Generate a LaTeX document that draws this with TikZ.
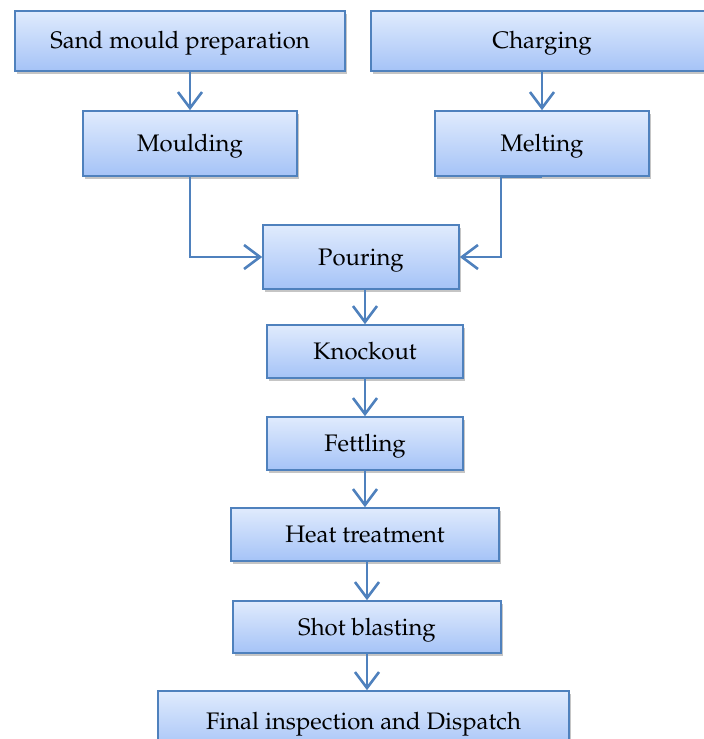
\documentclass[tikz,border=0pt]{standalone}
\usepackage[T1]{fontenc}
\usepackage{mathpazo}
\usetikzlibrary{shadows,arrows.meta}
\definecolor{boxline}{HTML}{4F81BD}
\definecolor{boxtop}{HTML}{E0EBFD}
\definecolor{boxbot}{HTML}{A5C3F7}
\tikzset{
  procbox/.style={draw=boxline, line width=1.6bp, top color=boxtop, bottom color=boxbot,
    drop shadow={shadow xshift=2bp, shadow yshift=-3bp, fill=black!45, opacity=0.5},
    inner sep=0pt, align=center, text height=16bp, text depth=0bp,
    font=\fontsize{24}{28}\selectfont},
  flow/.style={draw=boxline, line width=2.6bp,
    -{Straight Barb[length=16bp, width=24bp, line width=2.6bp]}}
}
\begin{document}
\begin{tikzpicture}[x=1bp, y=-1bp]
\useasboundingbox (0,0) rectangle (704,739);
\begin{scope}
\clip (0,0) rectangle (704,739);
\node[procbox, minimum width=330bp, minimum height=60bp] (sand) at (180,41) {Sand mould preparation};
\node[procbox, minimum width=342bp, minimum height=60bp] (charge) at (542,41) {Charging};
\node[procbox, minimum width=214bp, minimum height=65bp] (mould) at (190,143.5) {Moulding};
\node[procbox, minimum width=214bp, minimum height=65bp] (melt) at (542,143.5) {Melting};
\node[procbox, minimum width=196bp, minimum height=64bp] (pour) at (361,257) {Pouring};
\node[procbox, minimum width=196bp, minimum height=53bp] (knock) at (365,351.5) {Knockout};
\node[procbox, minimum width=196bp, minimum height=53bp] (fettle) at (365,443.5) {Fettling};
\node[procbox, minimum width=268bp, minimum height=53bp] (heat) at (365,534.5) {Heat treatment};
\node[procbox, minimum width=268bp, minimum height=52bp] (shot) at (367,627) {Shot blasting};
\node[procbox, minimum width=411bp, minimum height=60bp] (final) at (363.5,721) {Final inspection and Dispatch};

\draw[flow] (sand.south -| mould.north) -- (mould.north);
\draw[flow] (charge.south -| melt.north) -- (melt.north);
\draw[flow] (mould.south) |- (pour.west);
\draw[flow] (melt.south) -- ++(-41,0) |- (pour.east);
\draw[flow] (pour.south -| knock.north) -- (knock.north);
\draw[flow] (knock.south) -- (fettle.north);
\draw[flow] (fettle.south) -- (heat.north);
\draw[flow] (heat.south -| shot.north) -- (shot.north);
\draw[flow] (shot.south) -- (shot.south |- final.north);
\end{scope}
\end{tikzpicture}
\end{document}
